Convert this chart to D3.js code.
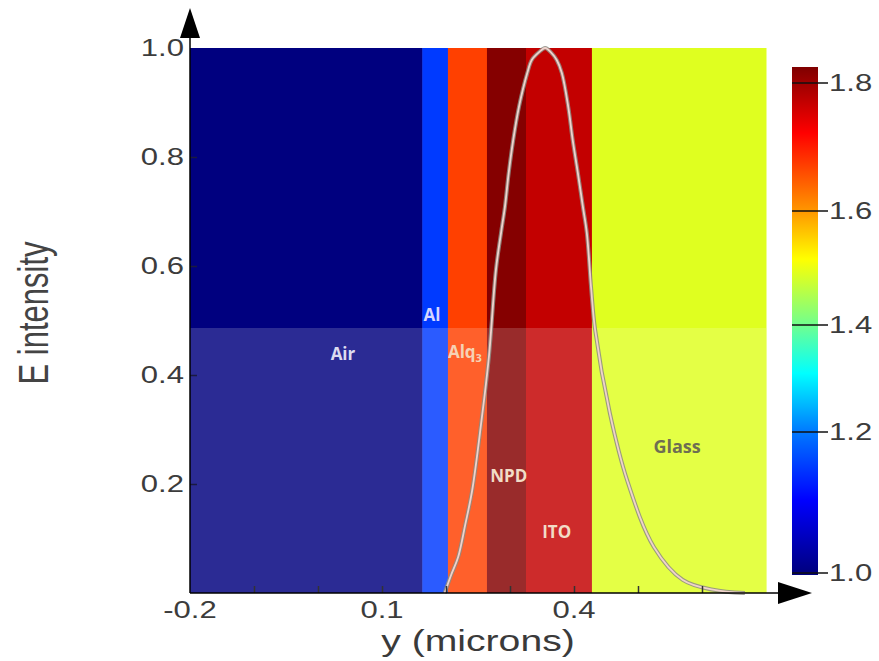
<!DOCTYPE html>
<html>
<head>
<meta charset="utf-8">
<script src="https://cdn.jsdelivr.net/npm/d3@7"></script>
<style>
  body { margin: 0; background: #fff; }
  svg { display: block; }
</style>
</head>
<body>
<div id="chart"></div>
<script>
// layer stack (position in microns, colour index shown on the colour bar)
const layerNames = ["Air", "Al", "Alq3", "NPD", "ITO", "Glass"];
const layerStart = [-0.2, 0.163, 0.203, 0.264, 0.325, 0.428];
const layerEnd   = [0.163, 0.203, 0.264, 0.325, 0.428, 0.7];
const layerIndex = [1.0, 1.15, 1.67, 1.82, 1.77, 1.49];

// E-field intensity profile
const curveX = [0.198, 0.208, 0.219, 0.230, 0.241, 0.255, 0.267, 0.278, 0.286, 0.292, 0.298, 0.305, 0.314,
                0.327, 0.334, 0.345, 0.355, 0.364, 0.373, 0.381, 0.391, 0.398, 0.406, 0.414, 0.420, 0.427,
                0.433, 0.456, 0.483, 0.525, 0.570, 0.617, 0.667];
const curveE = [0, 0.033, 0.066, 0.125, 0.189, 0.312, 0.433, 0.593, 0.661, 0.708, 0.771, 0.831, 0.892,
                0.954, 0.978, 0.992, 1.0, 0.992, 0.978, 0.954, 0.892, 0.831, 0.771, 0.708, 0.661, 0.556,
                0.483, 0.330, 0.207, 0.084, 0.024, 0.006, 0];

// tick labels
const xTicks = [-0.2, 0.1, 0.4];
const xMinorTicks = [-0.1, 0, 0.1, 0.2, 0.3, 0.4, 0.5, 0.6];
const yTicks = [0.2, 0.4, 0.6, 0.8, 1.0];
const cbarTicks = [1.0, 1.2, 1.4, 1.6, 1.8];
const cbarRange = [1.0, 1.825];

// layer labels, placed in data units (x microns, E)
const labelText = ["Air", "Al", "Alq", "NPD", "ITO", "Glass"];
const labelX = [0.039, 0.178, 0.203, 0.298, 0.373, 0.561];
const labelE = [0.428, 0.499, 0.431, 0.204, 0.101, 0.257];

var W = 879, H = 661;
var stretch = 1.35;   // the original picture is squeezed wider than tall

var svg = d3.select("#chart").append("svg")
    .attr("width", W)
    .attr("height", H);

var x = d3.scaleLinear().domain([-0.2, 0.7]).range([190, 766]);
var y = d3.scaleLinear().domain([0, 1]).range([593, 48]);

// colour bar axis is not quite linear in the picture
var cy = d3.scaleLinear().domain(cbarTicks).range([573, 432, 325, 211, 83]);

// jet colour map
var jet = d3.scaleLinear()
    .domain([0, 0.125, 0.375, 0.625, 0.875, 1])
    .range(["#00007f", "#0000ff", "#00ffff", "#ffff00", "#ff0000", "#7f0000"])
    .interpolate(d3.interpolateRgb);
function indexColor(v) {
    return jet((v - cbarRange[0]) / (cbarRange[1] - cbarRange[0]));
}

// LAYERS ****************************************
var layers = layerNames.map((n, i) => ({name: n, x0: layerStart[i], x1: layerEnd[i], n: layerIndex[i]}));

svg.append("g").selectAll("rect")
    .data(layers)
    .enter().append("rect")
    .attr("x", d => x(d.x0))
    .attr("y", y(1))
    .attr("width", d => x(d.x1) - x(d.x0) + 0.5)
    .attr("height", y(0) - y(1))
    .attr("fill", d => indexColor(d.n));

// washed-out lower half (watermark in the source picture)
var watermarkTop = 328;
svg.append("rect")
    .attr("x", x(-0.2))
    .attr("y", watermarkTop)
    .attr("width", x(0.7) - x(-0.2))
    .attr("height", y(0) - watermarkTop)
    .attr("fill", "#fff")
    .attr("opacity", 0.17);

// CURVE *****************************************
var pts = curveX.map((v, i) => [v, curveE[i]]);
var line = d3.line()
    .x(d => x(d[0]))
    .y(d => y(d[1]))
    .curve(d3.curveCatmullRom.alpha(0.5));

svg.append("path")
    .datum(pts)
    .attr("d", line)
    .attr("fill", "none")
    .attr("stroke", "#8c8c84")
    .attr("stroke-width", 4)
    .attr("opacity", 0.85);
svg.append("path")
    .datum(pts)
    .attr("d", line)
    .attr("fill", "none")
    .attr("stroke", "#f0d2cc")
    .attr("stroke-width", 1.8);

// LAYER LABELS **********************************
var labelColor = ["#dcdcf0", "#d6d6ff", "#f6d2b4", "#f2dcc6", "#f2dcc6", "#6e6e52"];
var lab = svg.append("g")
    .style("font-family", "'Open Sans', sans-serif")
    .style("font-weight", "bold");
labelText.forEach((t, i) => {
    var txt = lab.append("text")
        .attr("x", x(labelX[i]))
        .attr("y", y(labelE[i]))
        .attr("text-anchor", t === "Alq" ? "start" : "middle")
        .attr("font-size", t === "Glass" ? 18 : 17)
        .attr("fill", labelColor[i])
        .text(t);
    if (t === "Alq") {
        txt.append("tspan")
            .attr("font-size", 11)
            .attr("dy", 4)
            .text("3");
    }
});

// AXES ******************************************
var tickFont = "'Liberation Sans', Arial, sans-serif";

svg.append("g")
    .attr("transform", "translate(0," + y(0) + ")")
    .call(d3.axisBottom(x).tickValues(xMinorTicks).tickSizeInner(-7).tickSizeOuter(0).tickFormat(""))
    .call(g => g.select(".domain").remove())
    .selectAll("line").attr("stroke", "#333").attr("stroke-width", 1.5);

svg.append("g")
    .attr("transform", "translate(" + x(-0.2) + ",0)")
    .call(d3.axisLeft(y).tickValues(yTicks.slice(0, 4)).tickSizeInner(-7).tickSizeOuter(0).tickFormat(""))
    .call(g => g.select(".domain").remove())
    .selectAll("line").attr("stroke", "#1a1a40").attr("stroke-width", 1.5);

// axis lines with arrow heads
svg.append("line")
    .attr("x1", x(-0.2)).attr("x2", x(-0.2))
    .attr("y1", y(0)).attr("y2", 30)
    .attr("stroke", "#000").attr("stroke-width", 1.5);
svg.append("path")
    .attr("d", "M" + x(-0.2) + ",8 L" + (x(-0.2) - 10) + ",38 L" + (x(-0.2) + 10) + ",38 Z")
    .attr("fill", "#000");

svg.append("line")
    .attr("x1", x(-0.2)).attr("x2", 800)
    .attr("y1", y(0)).attr("y2", y(0))
    .attr("stroke", "#000").attr("stroke-width", 1.5);
svg.append("path")
    .attr("d", "M812," + y(0) + " L778," + (y(0) - 11) + " L778," + (y(0) + 11) + " Z")
    .attr("fill", "#000");

// tick labels (stretched horizontally like the source)
svg.append("g").selectAll("text")
    .data(yTicks)
    .enter().append("text")
    .attr("transform", d => "translate(184," + y(d) + ") scale(" + stretch + ",1)")
    .attr("dy", "0.35em")
    .attr("text-anchor", "end")
    .style("font-family", tickFont)
    .style("font-size", "23px")
    .attr("fill", "#3c3c3c")
    .text(d => d.toFixed(1));

svg.append("g").selectAll("text")
    .data(xTicks)
    .enter().append("text")
    .attr("transform", d => "translate(" + x(d) + ",618) scale(" + stretch + ",1)")
    .attr("text-anchor", "middle")
    .style("font-family", tickFont)
    .style("font-size", "23px")
    .attr("fill", "#3c3c3c")
    .text(d => d.toFixed(1));

// axis titles
svg.append("text")
    .attr("transform", "translate(" + x(0.25) + ",651) scale(" + stretch + ",1)")
    .attr("text-anchor", "middle")
    .style("font-family", tickFont)
    .style("font-size", "29px")
    .attr("fill", "#3a3a3a")
    .text("y (microns)");

svg.append("text")
    .attr("transform", "translate(48,313) scale(" + stretch + ",1) rotate(-90)")
    .attr("text-anchor", "middle")
    .style("font-family", tickFont)
    .style("font-size", "31px")
    .attr("fill", "#444")
    .text("E intensity");

// COLOUR BAR ************************************
var cbX = 792, cbW = 26;
var cbTop = cy(cbarRange[1]), cbBot = cy(cbarRange[0]) + 2;

var grad = svg.append("defs").append("linearGradient")
    .attr("id", "jetbar")
    .attr("x1", 0).attr("y1", 1).attr("x2", 0).attr("y2", 0);
d3.range(0, 41).forEach(i => {
    var v = cbarRange[0] + (cbarRange[1] - cbarRange[0]) * i / 40;
    grad.append("stop")
        .attr("offset", (cbBot - cy(v)) / (cbBot - cbTop))
        .attr("stop-color", indexColor(v));
});

svg.append("rect")
    .attr("x", cbX)
    .attr("y", cbTop)
    .attr("width", cbW)
    .attr("height", cbBot - cbTop)
    .attr("fill", "url(#jetbar)");

var cb = svg.append("g").selectAll("g")
    .data(cbarTicks)
    .enter().append("g")
    .attr("transform", d => "translate(0," + cy(d) + ")");
cb.append("line")
    .attr("x1", cbX).attr("x2", 828)
    .attr("stroke", "#111").attr("stroke-width", 1.6);
cb.append("text")
    .attr("transform", "translate(829,0) scale(" + stretch + ",1)")
    .attr("dy", "0.35em")
    .style("font-family", tickFont)
    .style("font-size", "23px")
    .attr("fill", "#3c3c3c")
    .text(d => d.toFixed(1));
</script>
</body>
</html>
